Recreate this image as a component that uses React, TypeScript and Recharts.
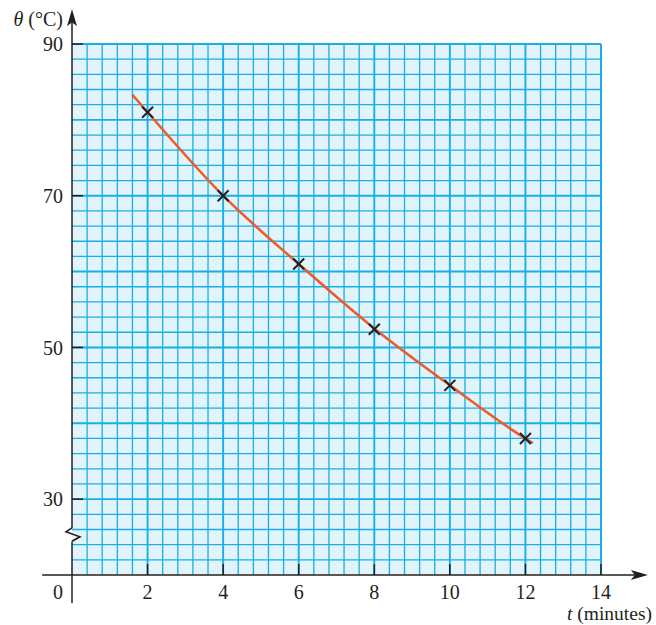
import {
  ComposedChart,
  XAxis,
  YAxis,
  Line,
  Scatter,
  ReferenceLine,
  ReferenceArea,
  ReferenceDot,
  Label,
} from "recharts";

// measured points (crosses)
const timeMinutes = [2, 4, 6, 8, 10, 12];
const temperature = [81, 70, 61, 52.4, 45, 38];

// fitted curve
const curveTime = [1.6, 2, 4, 6, 8, 10, 12, 12.2];
const curveTemp = [83.3, 81, 70, 61, 52.5, 45, 38, 37.4];

const xTicks = [0, 2, 4, 6, 8, 10, 12, 14];
const yTicks = [30, 50, 70, 90];

// graph paper: small squares 0.4 min x 2 °C
const xGrid = Array.from({ length: 36 }, (_, i) => ({ v: +(i * 0.4).toFixed(1), major: i % 5 === 0 }));
const yGrid = Array.from({ length: 36 }, (_, i) => ({ v: 20 + i * 2, major: i % 5 === 0 }));

const points = timeMinutes.map((t, i) => ({ t, theta: temperature[i] }));
const curve = curveTime.map((t, i) => ({ t, theta: curveTemp[i] }));

const FONT = "'Liberation Serif', 'DejaVu Serif', serif";
const INK = "#231f20";
const GRID = "#19afe6";
const PAPER = "#e1f3fb";
const FS = 20;

const XTick = (props: any) => {
  const { x, y, payload } = props;
  const dx = payload.value === 0 ? -14 : 0;
  return (
    <text x={x + dx} y={y} dy="0.71em" textAnchor="middle" fontFamily={FONT} fontSize={FS} fill={INK}>
      {payload.value}
    </text>
  );
};

const YTick = (props: any) => {
  const { x, y, payload } = props;
  return (
    <text x={x} y={y} dy="0.355em" textAnchor="end" fontFamily={FONT} fontSize={FS} fill={INK}>
      {payload.value}
    </text>
  );
};

const Cross = (props: any) => {
  const { cx, cy } = props;
  const s = 5.5;
  return (
    <g stroke={INK} strokeWidth={2}>
      <line x1={cx - s} y1={cy - s} x2={cx + s} y2={cy + s} />
      <line x1={cx - s} y1={cy + s} x2={cx + s} y2={cy - s} />
    </g>
  );
};

const ArrowUp = (props: any) => {
  const { cx, cy } = props;
  return <path d={`M${cx},${cy} L${cx + 5},${cy + 17} L${cx},${cy + 13} L${cx - 5},${cy + 17} Z`} fill={INK} />;
};

const ArrowRight = (props: any) => {
  const { cx, cy } = props;
  return <path d={`M${cx},${cy} L${cx - 17},${cy - 5} L${cx - 13},${cy} L${cx - 17},${cy + 5} Z`} fill={INK} />;
};

const AxisBreak = (props: any) => {
  const { cx, cy } = props;
  return (
    <polyline
      points={`${cx},${cy - 7} ${cx - 6},${cy - 3} ${cx + 8},${cy + 2} ${cx},${cy + 6.5}`}
      fill="none"
      stroke={INK}
      strokeWidth={1.6}
    />
  );
};

export default function App() {
  return (
    <div style={{ position: "absolute", left: 0, top: 0 }}>
      <ComposedChart width={656} height={625} margin={{ top: 44, right: 55, bottom: 20, left: 0 }}>
        <XAxis
          type="number"
          dataKey="t"
          domain={[0, 14]}
          ticks={xTicks}
          axisLine={false}
          tickLine={false}
          tickMargin={4}
          height={30}
          tick={<XTick />}
          allowDataOverflow
        >
          <Label
            content={(p: any) => {
              const vb = p.viewBox;
              return (
                <text x={vb.x + vb.width + 51} y={vb.y + 45} textAnchor="end" fontFamily={FONT} fontSize={19.5} fill={INK}>
                  <tspan fontStyle="italic">t</tspan> (minutes)
                </text>
              );
            }}
          />
        </XAxis>
        <YAxis
          type="number"
          domain={[20, 90]}
          ticks={yTicks}
          axisLine={false}
          tickLine={false}
          tickMargin={3}
          width={72}
          tick={<YTick />}
          allowDataOverflow
        >
          <Label
            content={(p: any) => {
              const vb = p.viewBox;
              return (
                <text x={vb.x + vb.width - 9} y={vb.y - 18} textAnchor="end" fontFamily={FONT} fontSize={FS} fill={INK}>
                  <tspan fontStyle="italic">θ</tspan> (°C)
                </text>
              );
            }}
          />
        </YAxis>

        <ReferenceArea x1={0} x2={14} y1={20} y2={90} fill={PAPER} fillOpacity={1} stroke="none" />
        {xGrid.slice(1).map((g) => (
          <ReferenceLine key={`vx${g.v}`} x={g.v} stroke={GRID} strokeWidth={g.major ? 1.9 : 1.3} />
        ))}
        <ReferenceLine x={14} stroke={GRID} strokeWidth={2} />
        {yGrid.slice(1).map((g) => (
          <ReferenceLine key={`hy${g.v}`} y={g.v} stroke={GRID} strokeWidth={g.major ? 1.9 : 1.3} />
        ))}
        <ReferenceLine y={90} stroke={GRID} strokeWidth={2} />

        {/* main axes */}
        <ReferenceLine
          segment={[{ x: -0.79, y: 20 }, { x: 15.0, y: 20 }]}
          stroke={INK}
          strokeWidth={1.5}
          ifOverflow="visible"
        />
        <ReferenceLine
          segment={[{ x: 0, y: 16.3 }, { x: 0, y: 24.4 }]}
          stroke={INK}
          strokeWidth={1.5}
          ifOverflow="visible"
        />
        <ReferenceLine
          segment={[{ x: 0, y: 26.2 }, { x: 0, y: 93.5 }]}
          stroke={INK}
          strokeWidth={1.5}
          ifOverflow="visible"
        />
        {xTicks.slice(1).map((t) => (
          <ReferenceLine key={`xt${t}`} segment={[{ x: t, y: 20 }, { x: t, y: 21.45 }]} stroke={INK} strokeWidth={1.5} />
        ))}
        {yTicks.map((v) => (
          <ReferenceLine key={`yt${v}`} segment={[{ x: 0, y: v }, { x: 0.29, y: v }]} stroke={INK} strokeWidth={1.5} />
        ))}
        <ReferenceDot x={0} y={25.3} r={1} shape={<AxisBreak />} ifOverflow="visible" />
        <ReferenceDot x={0} y={94.57} r={1} shape={<ArrowUp />} ifOverflow="visible" />
        <ReferenceDot x={15.24} y={20} r={1} shape={<ArrowRight />} ifOverflow="visible" />

        <Line
          data={curve}
          dataKey="theta"
          type="monotone"
          stroke="#ef5a28"
          strokeWidth={2.5}
          dot={false}
          activeDot={false}
          isAnimationActive={false}
        />
        <Scatter data={points} dataKey="theta" shape={<Cross />} isAnimationActive={false} />
      </ComposedChart>
    </div>
  );
}
